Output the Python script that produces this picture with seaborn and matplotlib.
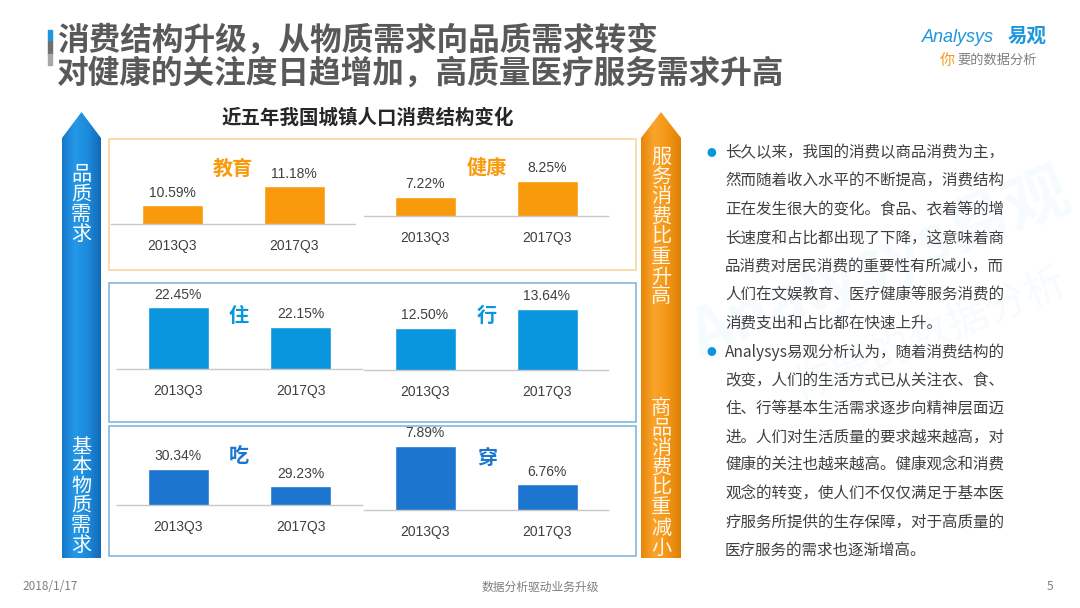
import matplotlib
matplotlib.use("Agg")
import matplotlib.pyplot as plt
import matplotlib.patches as mpatches
from matplotlib.colors import LinearSegmentedColormap
import seaborn as sns
import numpy as np
import pandas as pd

# ---- data ----
quarters = ["2013Q3", "2017Q3"]
edu = [10.59, 11.18]
health = [7.22, 8.25]
housing = [22.45, 22.15]
transport = [12.50, 13.64]
food = [30.34, 29.23]
clothing = [7.89, 6.76]

title_lines = ["消费结构升级，从物质需求向品质需求转变",
               "对健康的关注度日趋增加，高质量医疗服务需求升高"]
chart_title = "近五年我国城镇人口消费结构变化"

bullet1 = ["长久以来，我国的消费以商品消费为主，",
           "然而随着收入水平的不断提高，消费结构",
           "正在发生很大的变化。食品、衣着等的增",
           "长速度和占比都出现了下降，这意味着商",
           "品消费对居民消费的重要性有所减小，而",
           "人们在文娱教育、医疗健康等服务消费的",
           "消费支出和占比都在快速上升。"]
bullet2 = ["Analysys易观分析认为，随着消费结构的",
           "改变，人们的生活方式已从关注衣、食、",
           "住、行等基本生活需求逐步向精神层面迈",
           "进。人们对生活质量的要求越来越高，对",
           "健康的关注也越来越高。健康观念和消费",
           "观念的转变，使人们不仅仅满足于基本医",
           "疗服务所提供的生存保障，对于高质量的",
           "医疗服务的需求也逐渐增高。"]

sns.set_theme(style="white")
plt.rcParams['font.family'] = ['Noto Sans CJK SC', 'DejaVu Sans']

W, H = 1080, 608
fig = plt.figure(figsize=(W / 100, H / 100), dpi=100)
fig.patch.set_facecolor("white")

# pixel-space background axes for decoration
bg = fig.add_axes([0, 0, 1, 1], zorder=0)
bg.set_xlim(0, W)
bg.set_ylim(H, 0)
bg.axis("off")

ORANGE = "#F99A0C"
BLUE1 = "#0A96DE"
BLUE2 = "#1C76CF"
GRAY_TXT = "#404040"

# watermark
bg.text(880, 265, "Analysys易观", fontsize=46, color="#0096E0", alpha=0.04,
        rotation=22, ha="center", va="center", fontweight="bold", zorder=0)
bg.text(930, 335, "你要的数据分析", fontsize=30, color="#0096E0", alpha=0.04,
        rotation=22, ha="center", va="center", style="italic", zorder=0)

# title accent bar + title
bg.add_patch(mpatches.Rectangle((48, 30), 3.5, 11, color="#1E96E0"))
bg.add_patch(mpatches.Rectangle((48, 41), 3.5, 13, color="#6F6F6F"))
bg.add_patch(mpatches.Rectangle((48, 54), 3.5, 11, color="#A8A8A8"))
for i, line in enumerate(title_lines):
    bg.text(57, 41 + i * 33, line, fontsize=22.8, fontweight="bold",
            color="#595959", va="center", ha="left")

# logo
bg.text(922, 37, "Analysys", fontsize=13, style="italic", color="#1E96DC",
        va="center", ha="left", family=["Liberation Sans"])
bg.text(1008, 36, "易观", fontsize=14, fontweight="bold", color="#1E96DC",
        va="center", ha="left")
bg.text(940, 60, "你", fontsize=11, color="#F39A1E", va="center", ha="left", style="italic")
bg.text(957, 60, "要的数据分析", fontsize=9.5, color="#7F7F7F", va="center",
        ha="left", style="italic")

# chart title
bg.text(368, 118, chart_title, fontsize=14, fontweight="bold", color="#262626",
        ha="center", va="center")


def draw_arrow(x0, x1, tip, shoulder, bottom, colors):
    pts = [(x0, shoulder), ((x0 + x1) / 2, tip), (x1, shoulder), (x1, bottom), (x0, bottom)]
    poly = mpatches.Polygon(pts, closed=True, facecolor="none", edgecolor="none")
    bg.add_patch(poly)
    cmap = LinearSegmentedColormap.from_list("g", colors)
    grad = np.linspace(0, 1, 200).reshape(1, -1)
    im = bg.imshow(grad, extent=[x0, x1, bottom, tip], cmap=cmap,
                   aspect="auto", zorder=1, interpolation="bilinear")
    im.set_clip_path(poly)


def vtext(x, y0, step, s, color, size=14.5):
    for i, ch in enumerate(s):
        bg.text(x, y0 + i * step, ch, fontsize=size, color=color,
                ha="center", va="center", zorder=3)


draw_arrow(62, 101, 112, 138, 558, ["#1775C8", "#2499E8", "#1C8ADA", "#1269B8"])
draw_arrow(641, 681, 112, 138, 558, ["#E6870A", "#FAA42C", "#F39616", "#DE7F05"])
vtext(81, 175, 19.7, "品质需求", "white")
vtext(81, 447, 19.7, "基本物质需求", "white")
vtext(661, 157, 20, "服务消费比重升高", "#FFF6EA")
vtext(661, 408, 20, "商品消费比重减小", "#FFF6EA")
bg.set_xlim(0, W)
bg.set_ylim(H, 0)

# panels
bg.add_patch(mpatches.Rectangle((109, 139), 527, 131, fill=False, edgecolor="#F8D9A3", lw=1.3))
bg.add_patch(mpatches.Rectangle((109, 283), 527, 139, fill=False, edgecolor="#8DBCDF", lw=1.3))
bg.add_patch(mpatches.Rectangle((109, 426), 527, 130, fill=False, edgecolor="#8DBCDF", lw=1.3))

# sub charts: (label, values, color, x0, x1, baseline, top, ylim, label_xy)
charts = [
    ("教育", edu, ORANGE, 111, 355, 224, 140, (10, 12.625), (233, 168)),
    ("健康", health, ORANGE, 364, 608, 216, 140, (6, 10.87), (487, 167)),
    ("住", housing, BLUE1, 117, 362, 369, 285, (21.5, 22.79), (239, 315)),
    ("行", transport, BLUE1, 364, 608, 370, 285, (10, 15.06), (487, 315)),
    ("吃", food, BLUE2, 117, 362, 505, 428, (28, 33.0), (239, 456)),
    ("穿", clothing, BLUE2, 364, 608, 510, 428, (6, 8.41), (487, 457)),
]

for name, vals, color, x0, x1, base, top, ylim, (lx, ly) in charts:
    ax = fig.add_axes([x0 / W, 1 - base / H, (x1 - x0) / W, (base - top) / H], zorder=2)
    ax.patch.set_alpha(0)
    df = pd.DataFrame({"quarter": quarters, "share": vals})
    sns.barplot(data=df, x="quarter", y="share", ax=ax, color=color,
                width=0.5, saturation=1)
    ax.set_ylim(*ylim)
    ax.set_xlim(-0.5, 1.5)
    ax.bar_label(ax.containers[0], labels=[f"{v:.2f}%" for v in vals], padding=4,
                 fontsize=10, color=GRAY_TXT, family=["Liberation Sans"])
    ax.set_xlabel("")
    ax.set_ylabel("")
    ax.set_yticks([])
    sns.despine(ax=ax, left=True)
    ax.spines["bottom"].set_color("#C8C8C8")
    ax.spines["bottom"].set_linewidth(1)
    ax.tick_params(axis="x", length=0, pad=11, labelsize=10, labelcolor=GRAY_TXT)
    for t in ax.get_xticklabels():
        t.set_family(["Liberation Sans"])
    bg.text(lx, ly, name, fontsize=14.5, fontweight="bold", color=color,
            ha="center", va="center")

# right-hand text
lines = bullet1 + bullet2
for k, line in enumerate(lines):
    y = 153 + k * 28.4
    if k == 0 or k == len(bullet1):
        bg.text(711, y, "●", fontsize=7, color="#0A96DE", ha="center", va="center")
    bg.text(725, y, line, fontsize=11.2, color=GRAY_TXT, ha="left", va="center")

# footer
bg.text(22, 587, "2018/1/17", fontsize=8.5, color="#7F7F7F", ha="left", va="center")
bg.text(540, 587, "数据分析驱动业务升级", fontsize=8.5, color="#7F7F7F", ha="center", va="center")
bg.text(1050, 587, "5", fontsize=8.5, color="#7F7F7F", ha="center", va="center")

fig.savefig("out.png", dpi=100, facecolor="white")
plt.close(fig)
